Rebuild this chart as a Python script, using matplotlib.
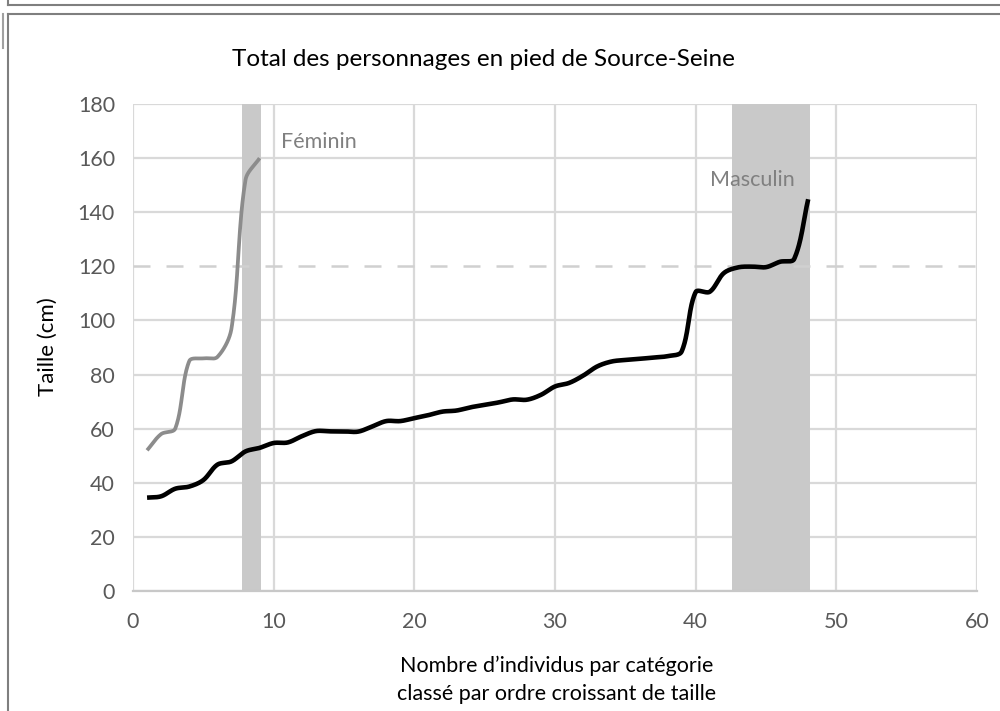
import numpy as np
import matplotlib
matplotlib.use("Agg")
import matplotlib.pyplot as plt
from matplotlib.lines import Line2D

# Heights (cm) of standing figures, sorted in increasing order
feminin = [52, 58, 60, 85, 86, 86.5, 97, 152, 160]
masculin = [34.5, 35, 37.8, 38.6, 41, 46.7, 47.9, 51.6, 52.9, 54.7,
            54.9, 57.2, 59.1, 59, 59, 58.9, 60.8, 62.8, 62.8, 63.9,
            65, 66.3, 66.7, 67.9, 68.8, 69.7, 70.8, 70.7, 72.5, 75.6,
            76.9, 79.6, 83, 84.8, 85.4, 85.8, 86.3, 86.8, 88.5, 110.5,
            110.6, 117.5, 119.6, 119.9, 119.7, 121.7, 122.7, 144.8]
fem_band = (7.75, 9.1)
masc_band = (42.6, 48.1)
threshold = 120

title = "Total des personnages en pied de Source-Seine"
xlabel = "Nombre d\u2019individus par cat\u00e9gorie\nclass\u00e9 par ordre croissant de taille"
ylabel = "Taille (cm)"
xticks = [0, 10, 20, 30, 40, 50, 60]
yticks = [0, 20, 40, 60, 80, 100, 120, 140, 160, 180]

FONT = ["Lato", "DejaVu Sans"]
plt.rcParams["font.family"] = FONT

# approximate screen scale of one data unit, used so smoothing works in display space
SX, SY = 14.07, 2.706


def smooth(y, n=40):
    """Smoothed line through points (1..len(y), y) with chord-weighted Bezier tangents."""
    p = np.column_stack([np.arange(1, len(y) + 1, dtype=float) * SX,
                         np.asarray(y, float) * SY])
    ext = np.vstack([p[0], p, p[-1]])
    t = np.linspace(0, 1, n)[:, None]
    pts = []
    for i in range(len(p) - 1):
        p0, p1, p2, p3 = ext[i], ext[i + 1], ext[i + 2], ext[i + 3]
        d01 = np.linalg.norm(p1 - p0)
        d12 = np.linalg.norm(p2 - p1)
        d23 = np.linalg.norm(p3 - p2)
        w1 = d12 / (d01 + d12) if d01 + d12 > 0 else 0.5
        w2 = d12 / (d12 + d23) if d12 + d23 > 0 else 0.5
        c1 = p1 + (p2 - p0) * w1 / 3.0
        c2 = p2 - (p3 - p1) * w2 / 3.0
        seg = ((1 - t) ** 3) * p1 + 3 * ((1 - t) ** 2) * t * c1 + 3 * (1 - t) * t ** 2 * c2 + t ** 3 * p2
        pts.append(seg if i == 0 else seg[1:])
    pts = np.vstack(pts)
    return pts[:, 0] / SX, pts[:, 1] / SY


fig = plt.figure(figsize=(10, 7.11), dpi=100)
ax = fig.add_axes([0.133, 0.1688, 0.844, 0.6849])

ax.set_xlim(0, 60)
ax.set_ylim(0, 180)
ax.set_xticks(xticks)
ax.set_yticks(yticks)
ax.grid(True, color="#d9d9d9", linewidth=1.6, zorder=0)
ax.set_axisbelow(True)
# the threshold level gets a dashed line instead of a plain gridline
ax.get_ygridlines()[yticks.index(threshold)].set_visible(False)
for s in ("top", "right", "left"):
    ax.spines[s].set_visible(False)
ax.spines["bottom"].set_color("#c8c8c8")
ax.spines["bottom"].set_linewidth(1.6)
ax.tick_params(length=0, colors="#595959", labelsize=15.5)
ax.tick_params(axis="x", pad=15)
ax.tick_params(axis="y", pad=13)

ax.axvspan(*fem_band, color="#c9c9c9", zorder=1, lw=0)
ax.axvspan(*masc_band, color="#c9c9c9", zorder=1, lw=0)
ax.axhline(threshold, color="#d0d0d0", lw=1.8, dashes=(6.8, 6.4), zorder=1.5)

fx, fy = smooth(feminin)
mx, my = smooth(masculin)
ax.plot(fx, fy, color="#8c8c8c", lw=2.7, solid_capstyle="butt", zorder=3)
ax.plot(mx, my, color="#000000", lw=3.3, solid_capstyle="butt", zorder=3)

ax.text(10.5, 166, "F\u00e9minin", color="#808080", fontsize=15.5, va="center", ha="left")
ax.text(41, 152, "Masculin", color="#808080", fontsize=15.5, va="center", ha="left")

fig.text(0.483, 0.916, title, ha="center", va="center", fontsize=17.5, color="#000000")
fig.text(0.557, 0.044, xlabel, ha="center", va="center", fontsize=15.5,
         color="#000000", linespacing=1.5)
fig.text(0.048, 0.512, ylabel, ha="center", va="center", fontsize=16,
         color="#000000", rotation=90)

# outer frame
fc = "#7f7f7f"
tf = fig.transFigure
fig.add_artist(Line2D([0.008, 1.0], [1 - 14 / 711, 1 - 14 / 711], color=fc, lw=1.5, transform=tf))
fig.add_artist(Line2D([0.008, 0.008], [0.0, 1 - 14 / 711], color=fc, lw=1.5, transform=tf))
fig.add_artist(Line2D([0.008, 1.0], [1 - 5 / 711, 1 - 5 / 711], color=fc, lw=1.5, transform=tf))
fig.add_artist(Line2D([0.008, 0.008], [1.0, 1 - 5 / 711], color=fc, lw=1.5, transform=tf))
fig.add_artist(Line2D([0.0025, 0.0025], [1 - 14 / 711, 1 - 48 / 711], color="#a0a0a0", lw=1.5, transform=tf))

fig.savefig("out.png", dpi=100, facecolor="white")
